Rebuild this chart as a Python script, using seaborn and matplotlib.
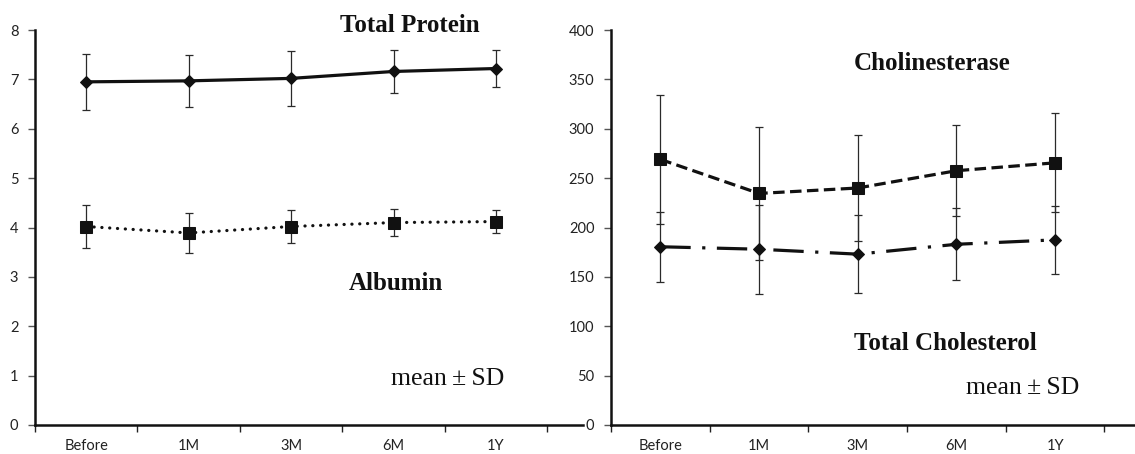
import numpy as np
import pandas as pd
import matplotlib
matplotlib.use("Agg")
import matplotlib.pyplot as plt
import seaborn as sns

# ── veriler ─────────────────────────────────────────────────
periods = ["Before", "1M", "3M", "6M", "1Y"]

tp_mean = [6.95, 6.97, 7.02, 7.16, 7.22]      # Total Protein
tp_sd   = [0.57, 0.52, 0.56, 0.44, 0.38]
alb_mean = [4.02, 3.89, 4.02, 4.10, 4.12]     # Albumin
alb_sd   = [0.44, 0.40, 0.34, 0.27, 0.23]

che_mean = [269, 234.5, 240, 257.5, 265.5]    # Cholinesterase
che_sd   = [65, 67, 54, 46, 50]
tc_mean  = [180.5, 178, 173, 183, 187.5]      # Total Cholesterol
tc_sd    = [35.5, 45, 39.5, 36.5, 34.5]

left_yticks  = [0, 1, 2, 3, 4, 5, 6, 7, 8]
right_yticks = [0, 50, 100, 150, 200, 250, 300, 350, 400]

sns.set_style("ticks")
plt.rcParams["font.family"] = ["Lato", "DejaVu Sans"]

INK = "#111111"
BAR = "#2a2a2a"

fig = plt.figure(figsize=(11.35, 4.54), dpi=100)
W, H = 1135, 454
ax1 = fig.add_axes([35 / W, 29 / H, 548 / W, 395 / H])
ax2 = fig.add_axes([611 / W, 29 / H, 524 / W, 395 / H])


def draw_panel(ax, series, xmax, ylim, yticks):
    # series: (ad, ortalama, sd, marker, dash, capstyle, markersize)
    rows = []
    for s in series:
        for p, m in zip(periods, s[1]):
            rows.append({"period": p, "value": m, "test": s[0]})
    df = pd.DataFrame(rows)
    sns.lineplot(data=df, x="period", y="value", style="test",
                 style_order=[s[0] for s in series],
                 dashes={s[0]: s[4] for s in series},
                 markers={s[0]: s[3] for s in series},
                 color=INK, linewidth=2.3,
                 markeredgecolor=INK, legend=False, ax=ax, sort=False)
    for line, s in zip(ax.get_lines(), series):
        line.set_dash_capstyle(s[5])
        line.set_markersize(s[6])
    x = np.arange(len(periods))
    for s in series:
        ax.errorbar(x, s[1], yerr=s[2], fmt="none", ecolor=BAR,
                    elinewidth=0.9, capsize=3.2, capthick=0.9, zorder=1)
    ax.set_xlim(-0.5, xmax)
    ax.set_ylim(*ylim)
    ax.set_yticks(yticks)
    ax.set_xticks(x)
    ax.set_xticklabels(periods)
    ax.set_xticks(np.arange(-0.5, 5, 1.0), minor=True)
    ax.tick_params(axis="x", which="major", length=0, pad=10,
                   labelsize=10.5, labelcolor="#222222")
    ax.tick_params(axis="x", which="minor", length=5, width=1,
                   color="#222222")
    ax.tick_params(axis="y", length=5, width=1, color="#555555",
                   labelsize=10.5, labelcolor="#222222", pad=7)
    ax.set_xlabel("")
    ax.set_ylabel("")
    for sp in ["top", "right"]:
        ax.spines[sp].set_visible(False)
    for sp in ["left", "bottom"]:
        ax.spines[sp].set_linewidth(1.8)
        ax.spines[sp].set_color(INK)
    ax.set_facecolor("white")


draw_panel(ax1,
           [("Total Protein", tp_mean, tp_sd, "D", "", "butt", 6.5),
            ("Albumin", alb_mean, alb_sd, "s", (0.05, 2.4), "round", 8)],
           4.85, (0, 8), left_yticks)

draw_panel(ax2,
           [("Cholinesterase", che_mean, che_sd, "s", (3.6, 1.7), "butt", 8),
            ("Total Cholesterol", tc_mean, tc_sd, "D",
             (9.5, 3.6, 1.0, 3.6), "butt", 6.5)],
           4.81, (0, 400), right_yticks)

serif = ["Liberation Serif", "DejaVu Serif"]
lab = dict(family=serif, fontweight="bold", fontsize=18, color=INK,
           ha="center", va="center")
fig.text(410 / W, 1 - 26 / H, "Total Protein", **lab)
fig.text(396 / W, 1 - 283 / H, "Albumin", **lab)
fig.text(932 / W, 1 - 64 / H, "Cholinesterase", **lab)
fig.text(945 / W, 1 - 343 / H, "Total Cholesterol", **lab)
msd = dict(family=serif, fontsize=18.5, color=INK, ha="center", va="center")
fig.text(448 / W, 1 - 379 / H, "mean\u2009\u00b1\u2009SD", **msd)
fig.text(1023 / W, 1 - 388 / H, "mean\u2009\u00b1\u2009SD", **msd)

fig.savefig("out.png", dpi=100, facecolor="white")
